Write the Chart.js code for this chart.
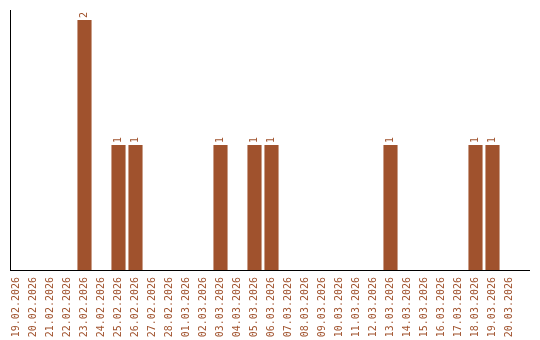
<!DOCTYPE html>
<html>
<head>
<meta charset="utf-8">
<script src="https://cdn.jsdelivr.net/npm/chart.js@4/dist/chart.umd.min.js"></script>
<style>
html,body{margin:0;padding:0;background:#fff;}
#wrap{width:540px;height:340px;position:relative;}
</style>
</head>
<body>
<div id="wrap"><canvas id="c" width="540" height="340"></canvas></div>
<script>
const categories = [
  "19.02.2026","20.02.2026","21.02.2026","22.02.2026","23.02.2026","24.02.2026",
  "25.02.2026","26.02.2026","27.02.2026","28.02.2026","01.03.2026","02.03.2026",
  "03.03.2026","04.03.2026","05.03.2026","06.03.2026","07.03.2026","08.03.2026",
  "09.03.2026","10.03.2026","11.03.2026","12.03.2026","13.03.2026","14.03.2026",
  "15.03.2026","16.03.2026","17.03.2026","18.03.2026","19.03.2026","20.03.2026"
];
const counts = [0,0,0,0,2,0,1,1,0,0,0,0,1,0,1,1,0,0,0,0,0,0,1,0,0,0,0,1,1,0];

const BROWN = '#A0522D';
const FONT = '"DejaVu Sans Mono", monospace';

const valueLabels = {
  id: 'valueLabels',
  afterDatasetsDraw(chart) {
    const ctx = chart.ctx;
    const meta = chart.getDatasetMeta(0);
    ctx.save();
    ctx.fillStyle = BROWN;
    ctx.font = '10px ' + FONT;
    ctx.textAlign = 'left';
    ctx.textBaseline = 'middle';
    meta.data.forEach((bar, i) => {
      const v = counts[i];
      if (!v) return;
      ctx.save();
      ctx.translate(bar.x, bar.y - 2);
      ctx.rotate(-Math.PI / 2);
      ctx.fillText(String(v), 0, 0);
      ctx.restore();
    });
    ctx.restore();
  }
};

const axisExtend = {
  id: 'axisExtend',
  afterDraw(chart) {
    const a = chart.chartArea;
    const ctx = chart.ctx;
    ctx.save();
    ctx.strokeStyle = '#000';
    ctx.lineWidth = 1;
    ctx.beginPath();
    ctx.moveTo(a.left + 2.5, a.top);
    ctx.lineTo(a.left + 2.5, a.bottom);
    ctx.moveTo(a.left + 2, a.bottom + 0.5);
    ctx.lineTo(a.right + 12, a.bottom + 0.5);
    ctx.stroke();
    ctx.restore();
  }
};

new Chart(document.getElementById('c'), {
  type: 'bar',
  data: {
    labels: categories,
    datasets: [{
      data: counts,
      backgroundColor: BROWN,
      borderWidth: 0,
      categoryPercentage: 1.0,
      barPercentage: 0.83
    }]
  },
  options: {
    responsive: false,
    animation: false,
    devicePixelRatio: 1,
    layout: { padding: { left: 8, right: 22, top: 10, bottom: 0 } },
    plugins: { legend: { display: false }, tooltip: { enabled: false } },
    scales: {
      x: {
        grid: { display: false, drawTicks: false },
        border: { display: false },
        afterFit: s => { s.height = 70; },
        ticks: {
          color: BROWN,
          font: { family: FONT, size: 10 },
          minRotation: 90,
          maxRotation: 90,
          autoSkip: false,
          padding: 7
        }
      },
      y: {
        min: 0,
        max: 2.08,
        grid: { display: false, drawTicks: false },
        border: { display: false },
        ticks: { display: false },
        afterFit: s => { s.width = 0; }
      }
    }
  },
  plugins: [valueLabels, axisExtend]
});
</script>
</body>
</html>
